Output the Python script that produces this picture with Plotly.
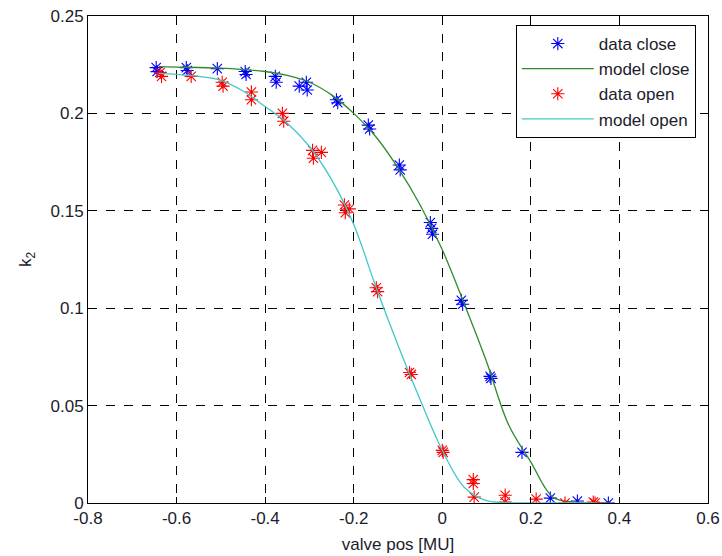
import plotly.graph_objects as go

close_x = [-0.646,-0.644,-0.578,-0.576,-0.508,-0.445,-0.443,-0.377,-0.375,-0.323,-0.307,-0.305,-0.239,-0.236,-0.167,-0.164,-0.097,-0.095,-0.027,-0.024,-0.022,0.043,0.046,0.108,0.110,0.180,0.244,0.305,0.375]
close_y = [0.2235,0.2215,0.2235,0.2220,0.2230,0.2215,0.2200,0.2190,0.2160,0.2140,0.2160,0.2120,0.2070,0.2055,0.1940,0.1920,0.1735,0.1710,0.1440,0.1410,0.1380,0.1040,0.1020,0.0650,0.0640,0.0260,0.0025,0.0010,0.0000]

open_x = [-0.637,-0.634,-0.567,-0.497,-0.495,-0.431,-0.431,-0.361,-0.358,-0.293,-0.291,-0.273,-0.221,-0.219,-0.210,-0.149,-0.146,-0.074,-0.070,0.000,0.002,0.070,0.070,0.072,0.142,0.142,0.212,0.277,0.341,0.345]
open_y = [0.2210,0.2190,0.2190,0.2160,0.2140,0.2110,0.2070,0.2000,0.1960,0.1810,0.1770,0.1800,0.1530,0.1490,0.1510,0.1105,0.1085,0.0670,0.0660,0.0270,0.0260,0.0120,0.0100,0.0030,0.0040,0.0005,0.0020,0.0000,0.0005,0.0000]

model_close_x = [-0.64,-0.6,-0.5,-0.4,-0.35,-0.3,-0.25,-0.2,-0.15,-0.1,-0.05,0.0,0.05,0.1,0.15,0.2,0.25,0.3,0.35,0.38]
model_close_y = [0.2240,0.2238,0.2232,0.2215,0.2195,0.2160,0.2095,0.2000,0.1880,0.1720,0.1530,0.1300,0.1020,0.0725,0.0400,0.0210,0.0030,0.0004,0.0,0.0]

model_open_x = [-0.64,-0.6,-0.55,-0.5,-0.45,-0.4,-0.35,-0.3,-0.25,-0.2,-0.15,-0.1,-0.05,0.0,0.05,0.1,0.15,0.2,0.25,0.3,0.35]
model_open_y = [0.2205,0.2200,0.2190,0.2170,0.2115,0.2035,0.1950,0.1830,0.1660,0.1430,0.1110,0.0810,0.0530,0.0270,0.0080,0.0012,0.0002,0.0,0.0,0.0,0.0]

x_ticks = [-0.8,-0.6,-0.4,-0.2,0,0.2,0.4,0.6]
x_labels = ["-0.8","-0.6","-0.4","-0.2","0","0.2","0.4","0.6"]
y_ticks = [0,0.05,0.1,0.15,0.2,0.25]
y_labels = ["0","0.05","0.1","0.15","0.2","0.25"]

FONT = "Liberation Sans, Arial, sans-serif"
TXT = "#1c1c2c"

fig = go.Figure()
fig.add_trace(go.Scatter(x=close_x, y=close_y, mode="markers", name="data close", legendgroup="a",
                         marker=dict(symbol="asterisk-open", size=11, color="#0000ff",
                                     line=dict(color="#0000ff", width=1.1))))
fig.add_trace(go.Scatter(x=model_close_x, y=model_close_y, mode="lines", name="model close", legendgroup="b",
                         line=dict(color="#2e8b2e", width=1.3, shape="spline")))
fig.add_trace(go.Scatter(x=open_x, y=open_y, mode="markers", name="data open", legendgroup="c",
                         marker=dict(symbol="asterisk-open", size=11, color="#ff0000",
                                     line=dict(color="#ff0000", width=1.1))))
fig.add_trace(go.Scatter(x=model_open_x, y=model_open_y, mode="lines", name="model open", legendgroup="d",
                         line=dict(color="#40c8c8", width=1.3, shape="spline")))

axis_common = dict(showline=True, linecolor="black", linewidth=1, mirror="ticks",
                   ticks="inside", ticklen=6, tickcolor="black", automargin=False,
                   showgrid=True, gridcolor="black", griddash="dash", gridwidth=1,
                   zeroline=False, tickfont=dict(family=FONT, size=17, color=TXT))

fig.update_xaxes(range=[-0.8, 0.6], tickvals=x_ticks, ticktext=x_labels,
                 title=dict(text="valve pos [MU]", font=dict(family=FONT, size=17, color=TXT), standoff=10),
                 **axis_common)
fig.update_yaxes(range=[0, 0.25], tickvals=y_ticks, ticktext=y_labels,
                 title=dict(text="k<sub>2</sub>", font=dict(family=FONT, size=17, color=TXT), standoff=14),
                 **axis_common)

fig.update_layout(width=722, height=556, plot_bgcolor="white", paper_bgcolor="white",
                  margin=dict(l=88, r=14, t=16, b=53),
                  legend=dict(x=0.69, y=0.9815, xanchor="left", yanchor="top",
                              bgcolor="white", bordercolor="black", borderwidth=1,
                              font=dict(family=FONT, size=17, color=TXT),
                              tracegroupgap=0, itemwidth=72))

fig.write_html("out.html")
